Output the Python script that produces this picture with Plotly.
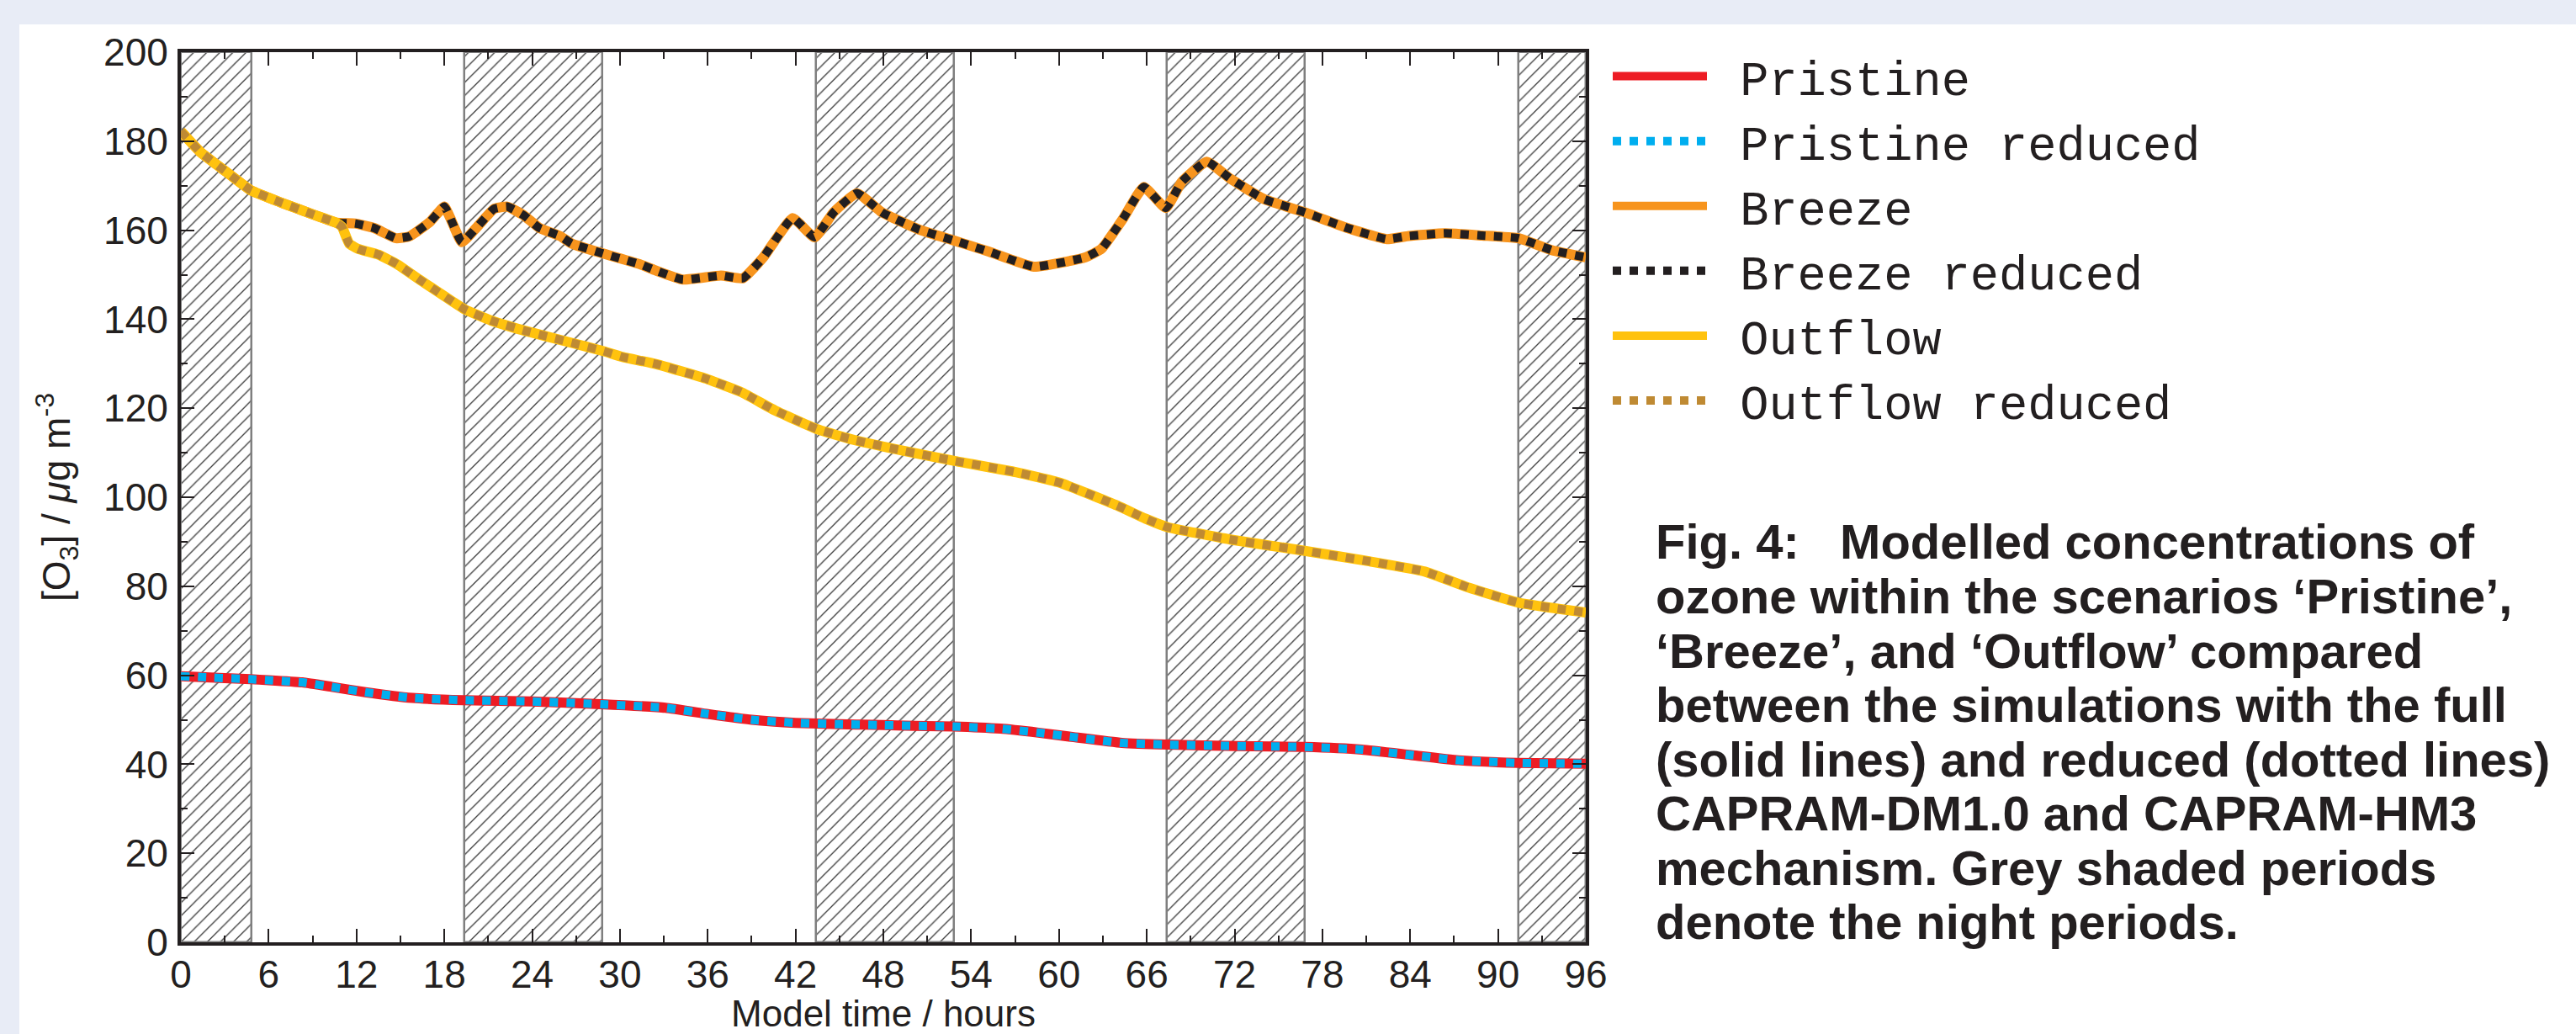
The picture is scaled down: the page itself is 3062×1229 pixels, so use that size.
import plotly.graph_objects as go

# ---------------- data ----------------
night_start = [0, 19.4, 43.4, 67.4, 91.4]
night_end = [4.8, 28.8, 52.8, 76.8, 96]

t_pristine = [0, 2, 4.75, 6, 8.3, 10.3, 12.6, 15.8, 19.3, 24, 28.7, 33.1, 36, 39, 42, 45, 48,
              50.9, 52.8, 56, 58.6, 61, 64.3, 67.5, 72.1, 76.8, 80.7, 84, 87.3, 91.4, 96]
pristine = [59.8, 59.5, 59.1, 58.9, 58.4, 57.4, 56.2, 54.9, 54.4, 54.1, 53.5, 52.7, 51.3, 50.0,
            49.3, 49.0, 48.8, 48.6, 48.5, 48.0, 47.1, 46.1, 44.8, 44.4, 44.1, 43.9, 43.3, 42.1,
            40.9, 40.3, 40.1]
pristine_reduced = pristine

t_breeze = [0, 1.35, 3.1, 4.76, 6.85, 9.06, 10.6, 11.9, 13.2, 14.7, 15.6, 17.0, 18.0, 18.4, 19.2,
            20.1, 21.4, 22.3, 23.4, 24.5, 25.9, 26.7, 28.8, 31.4, 32.4, 34.3, 36.9, 38.4, 39.8,
            41.8, 43.3, 44.6, 46.2, 47.9, 50.4, 52.8, 55.2, 58.3, 61.8, 62.9, 64.4, 65.8, 67.3,
            68.4, 70.1, 71.7, 74.0, 76.8, 79.7, 82.4, 83.9, 86.4, 88.9, 91.4, 93.7, 96]
breeze = [182.2, 177.5, 173.1, 169.0, 166.2, 163.5, 161.7, 161.5, 160.5, 158.2, 158.6, 161.8,
          165.3, 162.8, 157.3, 160.2, 164.8, 165.3, 163.4, 160.5, 158.7, 157.0, 154.8, 152.3,
          151.0, 148.9, 149.8, 149.2, 153.9, 162.7, 158.4, 164.0, 168.3, 164.0, 160.2, 157.7,
          155.2, 151.8, 153.9, 155.8, 162.7, 169.7, 165.0, 170.9, 175.4, 171.6, 167.0, 164.0,
          160.5, 158.0, 158.7, 159.3, 158.8, 158.2, 155.5, 153.9]
breeze_reduced = breeze

t_outflow = [0, 1.35, 3.1, 4.76, 6.85, 9.06, 10.6, 11.0, 11.5, 12.1, 13.5, 14.8, 16.3, 17.9, 19.4,
             21.2, 23.4, 26.7, 28.9, 30.2, 32.5, 36.0, 38.3, 40.6, 43.4, 45.6, 49.4, 52.8, 57.1,
             60.1, 64.0, 65.9, 67.4, 71.7, 76.7, 81.2, 85.0, 87.9, 91.4, 96]
outflow = [182.2, 177.5, 173.1, 169.0, 166.2, 163.5, 161.7, 160.8, 157.0, 155.8, 154.5, 152.3,
           148.9, 145.4, 142.2, 139.7, 137.5, 134.7, 132.8, 131.5, 129.9, 126.5, 123.6, 119.5,
           115.4, 113.2, 110.4, 108.2, 105.6, 103.2, 98.1, 95.2, 93.3, 90.5, 88.0, 85.6, 83.3,
           79.8, 76.3, 74.1]
outflow_reduced = outflow

x_ticks = list(range(0, 97, 6))
y_ticks = list(range(0, 201, 20))

caption_lines = [
    "Fig. 4:\u00a0\u00a0\u00a0Modelled concentrations of",
    "ozone within the scenarios \u2018Pristine\u2019,",
    "\u2018Breeze\u2019, and \u2018Outflow\u2019 compared",
    "between the simulations with the full",
    "(solid lines) and reduced (dotted lines)",
    "CAPRAM-DM1.0 and CAPRAM-HM3",
    "mechanism. Grey shaded periods",
    "denote the night periods.",
]

# ---------------- layout constants ----------------
W, H = 3062, 1229
ML, MR, MT, MB = 215, 3062 - 1885, 62, 1229 - 1120
PW, PH = W - ML - MR, H - MT - MB
INK = "#231f20"
SANS = "Liberation Sans, Arial, sans-serif"


def px_x(px):
    return (px - ML) / PW


def px_y(py):
    return (H - MB - py) / PH


fig = go.Figure()

# night periods (hatched)
fig.add_trace(go.Bar(
    x=[(s + e) / 2 for s, e in zip(night_start, night_end)],
    y=[200] * len(night_start),
    width=[e - s for s, e in zip(night_start, night_end)],
    base=0,
    marker=dict(color="white",
                line=dict(color="#7f7f7f", width=2.5),
                pattern=dict(shape="/", fgcolor="#3a3a3a", bgcolor="white",
                             size=11, solidity=0.12, fillmode="replace")),
    showlegend=False, hoverinfo="skip",
))

series = [
    ("Pristine", t_pristine, pristine, "#ED1C24", "solid", 12),
    ("Pristine reduced", t_pristine, pristine_reduced, "#00AEEF", "dot", 10),
    ("Breeze", t_breeze, breeze, "#F7941D", "solid", 12),
    ("Breeze reduced", t_breeze, breeze_reduced, INK, "dot", 10),
    ("Outflow", t_outflow, outflow, "#FFC20E", "solid", 12),
    ("Outflow reduced", t_outflow, outflow_reduced, "#BF8A33", "dot", 10),
]
for name, tx, vy, col, dash, w in series:
    fig.add_trace(go.Scatter(
        x=tx, y=vy, name="\u00a0" + name, mode="lines",
        line=dict(color=col, width=w, dash=dash, shape="spline", smoothing=0.4),
    ))

axis_common = dict(
    showline=True, linewidth=4, linecolor=INK, mirror="ticks",
    ticks="inside", tickwidth=2, tickcolor=INK,
    showgrid=False, zeroline=False, automargin=False,
    tickfont=dict(family=SANS, size=46, color=INK),
)

annotations = []
for i, line in enumerate(caption_lines):
    annotations.append(dict(
        xref="paper", yref="paper", x=px_x(1966), y=px_y(644 + 64.5 * i),
        xanchor="left", yanchor="middle", align="left", showarrow=False,
        text="<b>" + line + "</b>",
        font=dict(family=SANS, size=58, color=INK),
    ))

fig.update_layout(
    width=W, height=H,
    margin=dict(l=ML, r=MR, t=MT, b=MB, autoexpand=False),
    paper_bgcolor="#E8ECF6", plot_bgcolor="white",
    barmode="overlay", bargap=0,
    showlegend=True,
    legend=dict(
        x=px_x(1912), y=px_y(47), xanchor="left", yanchor="top",
        font=dict(family="Liberation Mono, Courier New, monospace", size=57, color=INK),
        bgcolor="rgba(0,0,0,0)", itemwidth=112, tracegroupgap=0,
    ),
    xaxis=dict(axis_common, range=[0, 96], tickvals=x_ticks, ticklen=16,
               ticklabelstandoff=-5,
               minor=dict(dtick=3, ticks="inside", ticklen=8, tickwidth=2, tickcolor=INK),
               title=dict(text="Model time / hours", standoff=48,
                          font=dict(family=SANS, size=44, color=INK))),
    yaxis=dict(axis_common, range=[0, 200], tickvals=y_ticks, ticklen=16,
               ticklabelstandoff=2,
               minor=dict(dtick=10, ticks="inside", ticklen=8, tickwidth=2, tickcolor=INK),
               title=dict(text="[O<sub>3</sub>] / <i>\u03bc</i>g m<sup>-3</sup>", standoff=26,
                          font=dict(family=SANS, size=46, color=INK))),
    shapes=[dict(type="rect", xref="paper", yref="paper", layer="below",
                 x0=px_x(23), x1=px_x(W + 300), y0=px_y(H + 300), y1=px_y(29),
                 fillcolor="white", line=dict(width=0))],
    annotations=annotations,
)

fig.write_html("out.html")
